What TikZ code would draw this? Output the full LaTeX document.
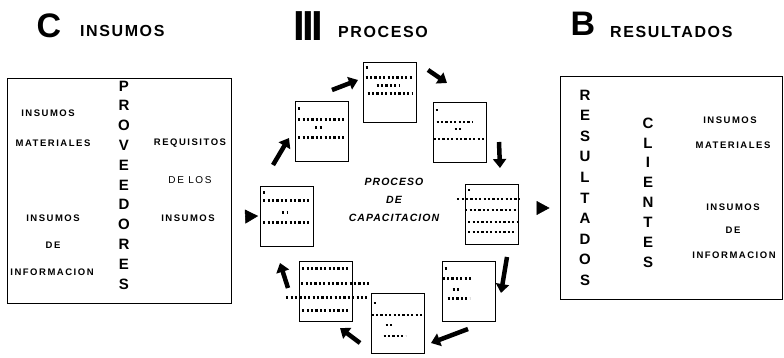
\documentclass[tikz,border=0pt]{standalone}
\usepackage{fontspec}
\setmainfont{Liberation Sans}
\newfontfamily\headfont[LetterSpace=10]{Liberation Sans}
\newfontfamily\tagfont[LetterSpace=16]{Liberation Sans}
\newfontfamily\barfont[LetterSpace=-6]{Liberation Sans}
\usetikzlibrary{arrows.meta}
\tikzset{
  bigbox/.style={draw, line width=0.9pt, inner sep=0pt},
  doc/.style={draw, line width=0.8pt, minimum width=53pt, minimum height=60pt, inner sep=0pt},
  head/.style={font=\headfont\bfseries\fontsize{16}{16}\selectfont, inner sep=0pt, anchor=base west},
  letter/.style={font=\bfseries\fontsize{34}{34}\selectfont, inner sep=0pt},
  tag/.style={font=\tagfont\bfseries\fontsize{9.5}{10}\selectfont, inner sep=0pt},
  vlet/.style={font=\bfseries\fontsize{15}{15}\selectfont, inner sep=0pt},
  mid/.style={font=\headfont\bfseries\itshape\fontsize{10.5}{11}\selectfont, inner sep=0pt},
  fat/.style={line width=4.5pt, -{Triangle[length=9pt,width=13pt]}},
  bigtip/.style={line width=0.5pt, -{Triangle[length=13pt,width=14pt]}},
  dotrow/.style={line width=2.4pt, dash pattern=on 2.2pt off 2.2pt},
}
\begin{document}
\begin{tikzpicture}[x=1pt,y=-1pt]
\useasboundingbox (0,0) rectangle (784,358);
% titles
\node[letter] (c) at (49,26) {C};
\node[head] (tins) at (80,37) {INSUMOS};
\node[letter, font=\barfont\bfseries\fontsize{42}{42}\selectfont] (iii) at (308,26) {III};
\node[head] (tpro) at (338,38) {PROCESO};
\node[letter] (b) at (583,24) {B};
\node[head] (tres) at (610,38) {RESULTADOS};
% big boxes
\node[bigbox, minimum width=224pt, minimum height=225pt] (insumos) at (119,190.5) {};
\node[bigbox, minimum width=222pt, minimum height=223pt] (resultados) at (671,187.5) {};
\foreach \c [count=\i] in {P,R,O,V,E,E,D,O,R,E,S}
  \node[vlet] (prov-\i) at (124,{86+19.8*(\i-1)}) {\c};
\foreach \c [count=\i] in {R,E,S,U,L,T,A,D,O,S}
  \node[vlet] (res-\i) at (585,{95+20.6*(\i-1)}) {\c};
\foreach \c [count=\i] in {C,L,I,E,N,T,E,S}
  \node[vlet] (cli-\i) at (648,{123+19.9*(\i-1)}) {\c};
\node[tag] (li1) at (48,113) {INSUMOS};
\node[tag] (li2) at (53,143) {MATERIALES};
\node[tag] (li3) at (53,218) {INSUMOS};
\node[tag] (li4) at (53,245) {DE};
\node[tag] (li5) at (52,272) {INFORMACION};
\node[tag] (req1) at (190,143) {REQUISITOS};
\node[tag, font=\tagfont\fontsize{10}{10}\selectfont] (req2) at (190,180) {DE LOS};
\node[tag] (req3) at (188,218) {INSUMOS};
\node[tag] (ri1) at (730,120) {INSUMOS};
\node[tag] (ri2) at (733,145) {MATERIALES};
\node[tag] (ri3) at (733,207) {INSUMOS};
\node[tag] (ri4) at (733,230) {DE};
\node[tag] (ri5) at (734,255) {INFORMACION};
% cycle
\node[mid] (p1) at (394,182) {PROCESO};
\node[mid] (p2) at (394,200) {DE};
\node[mid] (p3) at (394,218) {CAPACITACION};
\foreach \n/\x/\y in {1/389.5/92,2/322/131,3/459.5/132.5,4/287/216,5/492/214.5,6/468.5/291,7/397.5/323.5,8/326/291}
  \node[doc] (d\n) at (\x,\y) {};
\foreach \b/\xa/\xb/\yy in {1/3/5/6,1/3/51/16,1/14/37/24,1/5/50/32,
    2/3/5/8,2/3/51/19,2/20/27/27,2/3/51/37,
    3/3/5/8,3/4/40/20,3/22/29/27,3/1/53/37,
    4/3/5/7,4/3/51/15,4/22/27/27,4/3/51/37,
    5/3/5/6,5/-8/54/15,5/0/51/26,5/3/52/38,5/3/50/48,
    6/3/5/8,6/1/31/18,6/11/18/29,6/6/28/38,
    7/3/5/10,7/1/51/22,7/15/23/32,7/13/35/43,
    8/3/50/8,8/2/70/23,8/-13/68/37,8/3/50/50}
  \draw[dotrow] ([shift={(\xa,\yy)}]d\b.north west) -- ([shift={(\xb,\yy)}]d\b.north west);
\foreach \n/\xa/\ya/\xb/\yb in {1/273/165/289/138, 2/332/90/358/80, 3/428/70/447/83, 4/499/142/500/168,
    5/507/257/501/293, 6/468/329/431/343, 7/360/343/340/328, 8/288/288/280/263}{
  \coordinate (a\n-s) at (\xa,\ya);
  \coordinate (a\n-e) at (\xb,\yb);
  \draw[fat] (a\n-s) -- (a\n-e);
}
\draw[bigtip] ([shift={(15,26)}]insumos.east) -- ([shift={(-2,0)}]d4.west);
\draw[bigtip] ([shift={(18,-6.5)}]d5.east) -- ([shift={(-10,20.5)}]resultados.west);
\end{tikzpicture}
\end{document}
